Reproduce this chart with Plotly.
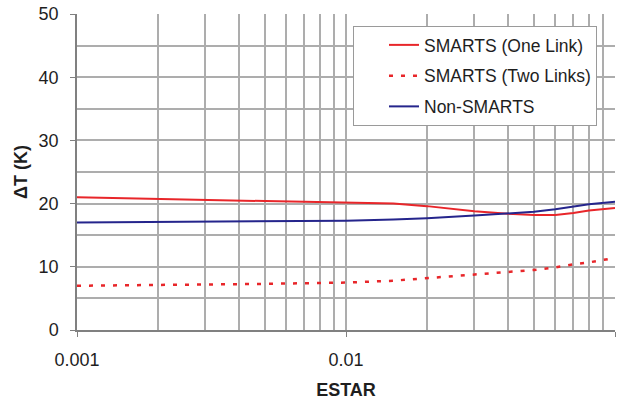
import plotly.graph_objects as go

# ESTAR values and temperature rise for each configuration
estar = [0.001, 0.002, 0.003, 0.005, 0.007, 0.01, 0.015, 0.02, 0.03, 0.04, 0.05, 0.06, 0.07, 0.08, 0.1]
smarts_one_link = [21.0, 20.7, 20.6, 20.4, 20.3, 20.2, 20.0, 19.6, 18.8, 18.4, 18.2, 18.2, 18.5, 18.9, 19.3]
smarts_two_links = [7.0, 7.1, 7.2, 7.3, 7.4, 7.5, 7.8, 8.2, 8.7, 9.1, 9.5, 9.9, 10.4, 10.7, 11.4]
non_smarts = [17.0, 17.1, 17.1, 17.2, 17.3, 17.3, 17.5, 17.7, 18.1, 18.4, 18.7, 19.1, 19.5, 19.9, 20.3]

x_tick_vals = [0.001, 0.01, 0.1]
x_tick_text = ["0.001", "0.01", "0.1"]

FONT = "Liberation Sans, Arial, sans-serif"
RED = "#e8262a"
BLUE = "#25258c"
GRID = "#adadad"
AXIS = "#808080"
TEXT = "#1e1e1e"

fig = go.Figure()
fig.add_trace(go.Scatter(x=estar, y=smarts_one_link, mode="lines", name="SMARTS (One Link)",
                         legendgroup="a", line=dict(color=RED, width=2)))
fig.add_trace(go.Scatter(x=estar, y=smarts_two_links, mode="lines", name="SMARTS (Two Links)",
                         legendgroup="b", line=dict(color=RED, width=2.5, dash="4px,8px")))
fig.add_trace(go.Scatter(x=estar, y=non_smarts, mode="lines", name="Non-SMARTS",
                         legendgroup="c", line=dict(color=BLUE, width=2)))

fig.update_layout(
    width=623, height=400,
    margin=dict(l=77, r=8, t=14, b=70, autoexpand=False),
    paper_bgcolor="white", plot_bgcolor="white",
    font=dict(family=FONT, color=TEXT),
    showlegend=True,
    legend=dict(
        x=0.513, y=0.962, xanchor="left", yanchor="top",
        bgcolor="white", bordercolor="#9a9a9a", borderwidth=1,
        font=dict(family=FONT, size=17.5, color=TEXT),
        tracegroupgap=5, traceorder="grouped",
        indentation=30,
    ),
    xaxis=dict(
        type="log", range=[-3, -1], automargin=False,
        tickvals=x_tick_vals, ticktext=x_tick_text,
        tickfont=dict(size=18, family=FONT, color=TEXT),
        ticks="outside", ticklen=5, tickcolor=AXIS, tickwidth=1,
        ticklabelstandoff=8,
        showgrid=True, gridcolor=GRID, gridwidth=1.5,
        minor=dict(dtick="D1", showgrid=True, gridcolor=GRID, gridwidth=1.5, ticks=""),
        showline=True, linecolor=AXIS, linewidth=1.5,
        zeroline=False,
        title=dict(text="<b>ESTAR</b>", font=dict(size=18, family=FONT, color=TEXT), standoff=15),
    ),
    yaxis=dict(
        range=[0, 50], dtick=10, automargin=False,
        tickfont=dict(size=18, family=FONT, color=TEXT),
        ticks="outside", ticklen=5, tickcolor=AXIS, tickwidth=1,
        ticklabelstandoff=8,
        showgrid=True, gridcolor=GRID, gridwidth=1.5,
        minor=dict(dtick=5, showgrid=True, gridcolor=GRID, gridwidth=1.5, ticks=""),
        showline=True, linecolor=AXIS, linewidth=1.5,
        zeroline=False,
        title=dict(text="<b>ΔT (K)</b>", font=dict(size=18, family=FONT, color=TEXT), standoff=6),
    ),
)

fig.write_html("out.html")
